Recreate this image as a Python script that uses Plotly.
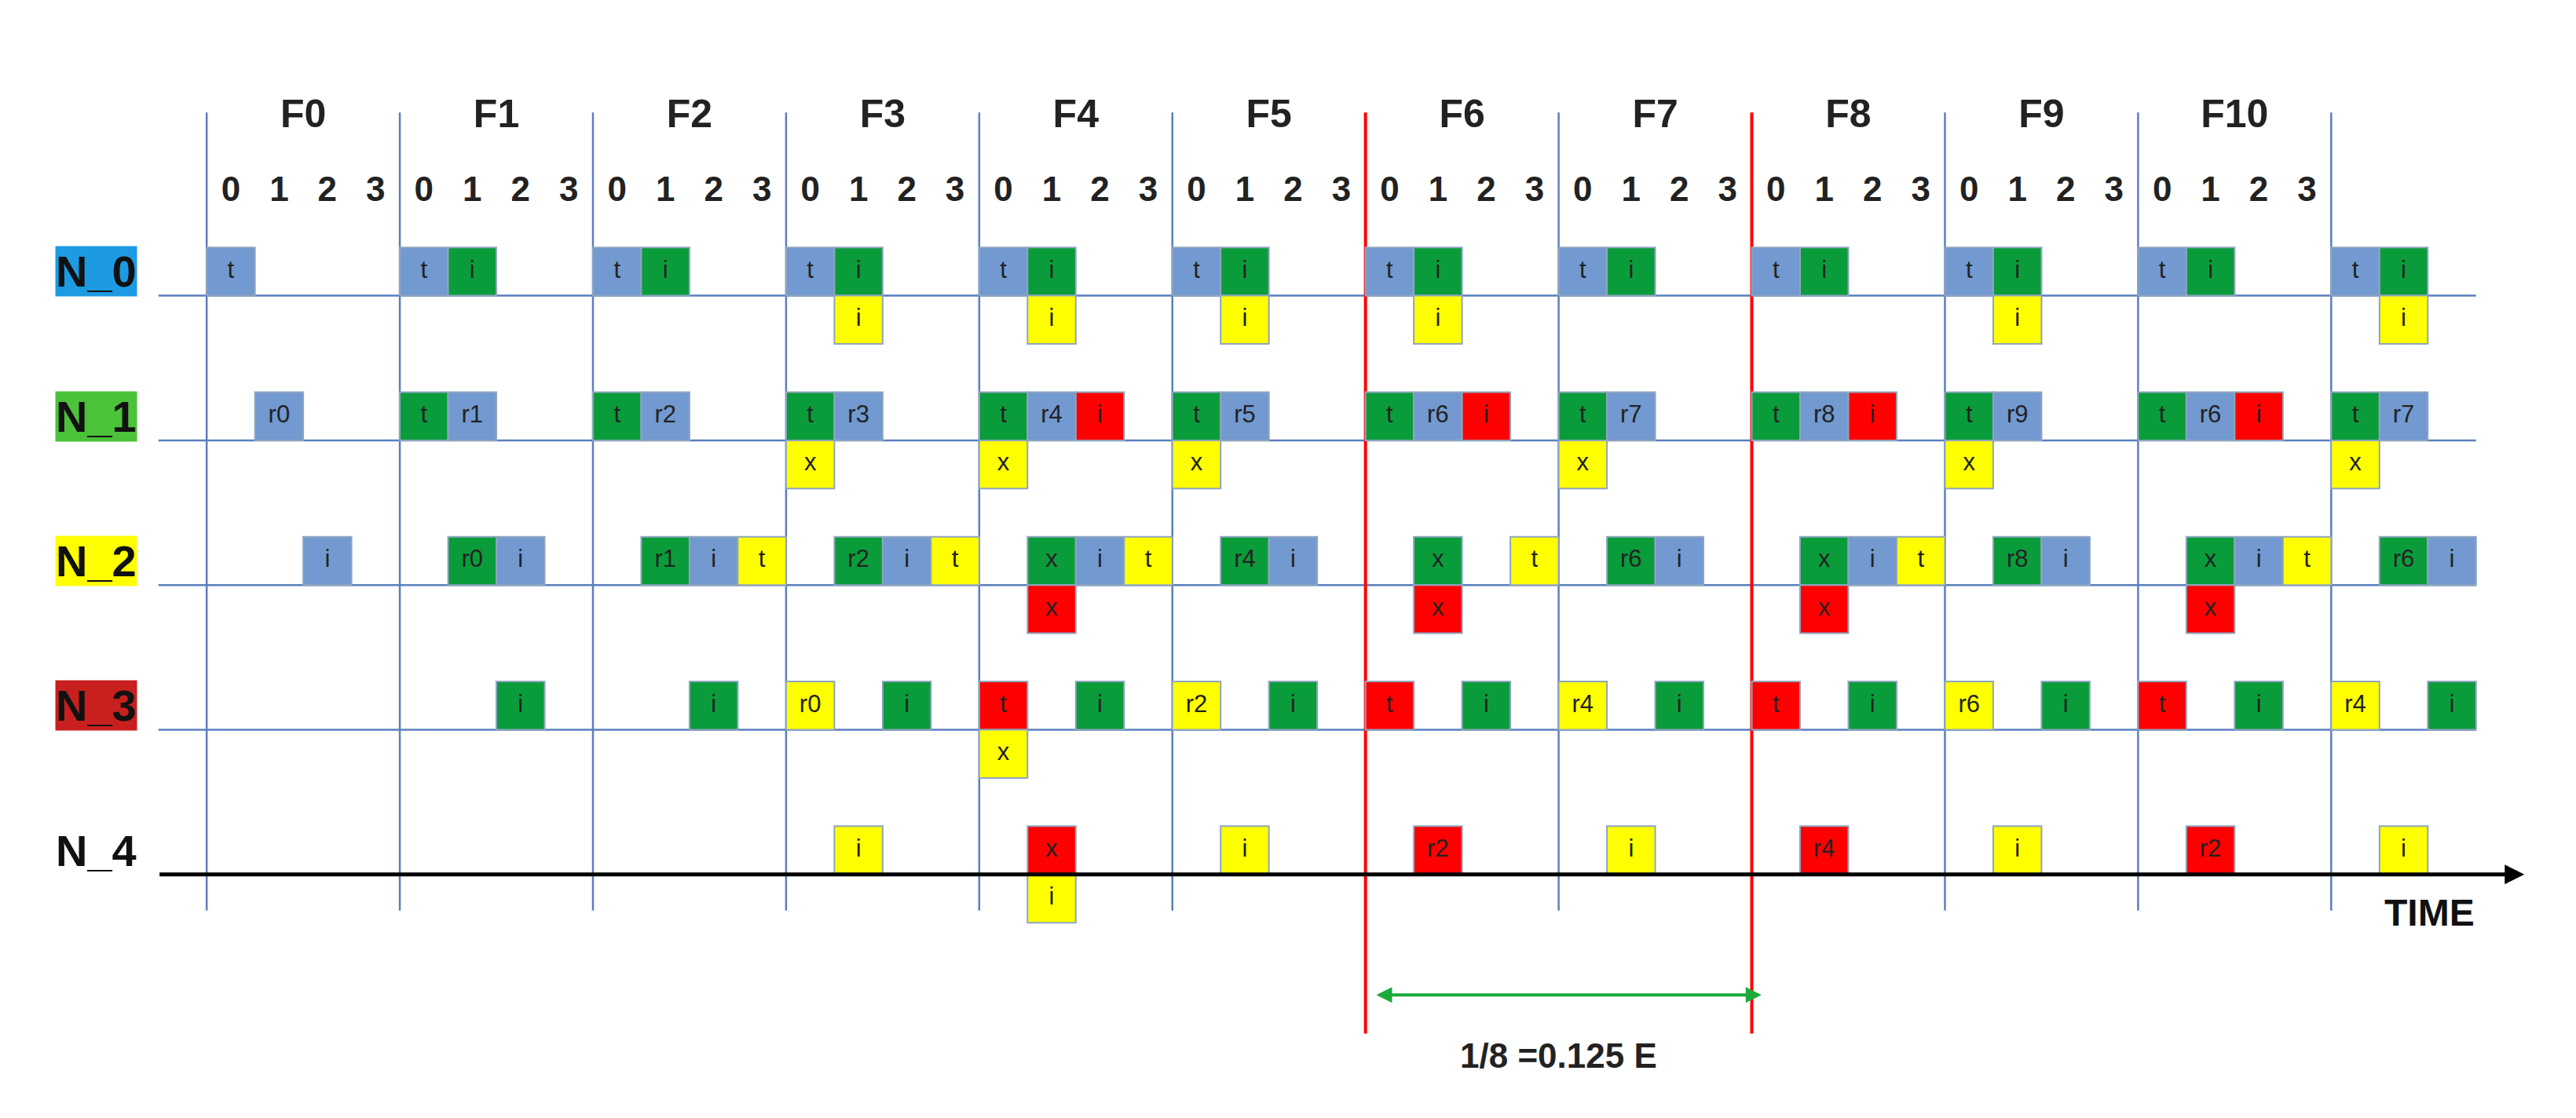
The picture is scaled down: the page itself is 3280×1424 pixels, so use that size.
import plotly.graph_objects as go

nodes = ['N_0', 'N_1', 'N_2', 'N_3', 'N_4']
node_bg = ['#1C9BE3', '#4CC23A', '#FFFF00', '#C8201E', 'rgba(0,0,0,0)']
frames = ['F0', 'F1', 'F2', 'F3', 'F4', 'F5', 'F6', 'F7', 'F8', 'F9', 'F10']
slots = ['0', '1', '2', '3']
red_frames = [6, 8]

fill = {'B': '#7299D0', 'G': '#0A9C3B', 'Y': '#FFFF00', 'R': '#FF0000'}

# (frame, slot, text, colour, side) ; side 1 = above the line, -1 = below
boxes = {
    0: [(0, 0, 't', 'B', 1),
        (1, 0, 't', 'B', 1), (1, 1, 'i', 'G', 1),
        (2, 0, 't', 'B', 1), (2, 1, 'i', 'G', 1),
        (3, 0, 't', 'B', 1), (3, 1, 'i', 'G', 1), (3, 1, 'i', 'Y', -1),
        (4, 0, 't', 'B', 1), (4, 1, 'i', 'G', 1), (4, 1, 'i', 'Y', -1),
        (5, 0, 't', 'B', 1), (5, 1, 'i', 'G', 1), (5, 1, 'i', 'Y', -1),
        (6, 0, 't', 'B', 1), (6, 1, 'i', 'G', 1), (6, 1, 'i', 'Y', -1),
        (7, 0, 't', 'B', 1), (7, 1, 'i', 'G', 1),
        (8, 0, 't', 'B', 1), (8, 1, 'i', 'G', 1),
        (9, 0, 't', 'B', 1), (9, 1, 'i', 'G', 1), (9, 1, 'i', 'Y', -1),
        (10, 0, 't', 'B', 1), (10, 1, 'i', 'G', 1),
        (11, 0, 't', 'B', 1), (11, 1, 'i', 'G', 1), (11, 1, 'i', 'Y', -1)],
    1: [(0, 1, 'r0', 'B', 1),
        (1, 0, 't', 'G', 1), (1, 1, 'r1', 'B', 1),
        (2, 0, 't', 'G', 1), (2, 1, 'r2', 'B', 1),
        (3, 0, 't', 'G', 1), (3, 1, 'r3', 'B', 1), (3, 0, 'x', 'Y', -1),
        (4, 0, 't', 'G', 1), (4, 1, 'r4', 'B', 1), (4, 2, 'i', 'R', 1), (4, 0, 'x', 'Y', -1),
        (5, 0, 't', 'G', 1), (5, 1, 'r5', 'B', 1), (5, 0, 'x', 'Y', -1),
        (6, 0, 't', 'G', 1), (6, 1, 'r6', 'B', 1), (6, 2, 'i', 'R', 1),
        (7, 0, 't', 'G', 1), (7, 1, 'r7', 'B', 1), (7, 0, 'x', 'Y', -1),
        (8, 0, 't', 'G', 1), (8, 1, 'r8', 'B', 1), (8, 2, 'i', 'R', 1),
        (9, 0, 't', 'G', 1), (9, 1, 'r9', 'B', 1), (9, 0, 'x', 'Y', -1),
        (10, 0, 't', 'G', 1), (10, 1, 'r6', 'B', 1), (10, 2, 'i', 'R', 1),
        (11, 0, 't', 'G', 1), (11, 1, 'r7', 'B', 1), (11, 0, 'x', 'Y', -1)],
    2: [(0, 2, 'i', 'B', 1),
        (1, 1, 'r0', 'G', 1), (1, 2, 'i', 'B', 1),
        (2, 1, 'r1', 'G', 1), (2, 2, 'i', 'B', 1), (2, 3, 't', 'Y', 1),
        (3, 1, 'r2', 'G', 1), (3, 2, 'i', 'B', 1), (3, 3, 't', 'Y', 1),
        (4, 1, 'x', 'G', 1), (4, 2, 'i', 'B', 1), (4, 3, 't', 'Y', 1), (4, 1, 'x', 'R', -1),
        (5, 1, 'r4', 'G', 1), (5, 2, 'i', 'B', 1),
        (6, 1, 'x', 'G', 1), (6, 3, 't', 'Y', 1), (6, 1, 'x', 'R', -1),
        (7, 1, 'r6', 'G', 1), (7, 2, 'i', 'B', 1),
        (8, 1, 'x', 'G', 1), (8, 2, 'i', 'B', 1), (8, 3, 't', 'Y', 1), (8, 1, 'x', 'R', -1),
        (9, 1, 'r8', 'G', 1), (9, 2, 'i', 'B', 1),
        (10, 1, 'x', 'G', 1), (10, 2, 'i', 'B', 1), (10, 3, 't', 'Y', 1), (10, 1, 'x', 'R', -1),
        (11, 1, 'r6', 'G', 1), (11, 2, 'i', 'B', 1)],
    3: [(1, 2, 'i', 'G', 1),
        (2, 2, 'i', 'G', 1),
        (3, 0, 'r0', 'Y', 1), (3, 2, 'i', 'G', 1),
        (4, 0, 't', 'R', 1), (4, 2, 'i', 'G', 1), (4, 0, 'x', 'Y', -1),
        (5, 0, 'r2', 'Y', 1), (5, 2, 'i', 'G', 1),
        (6, 0, 't', 'R', 1), (6, 2, 'i', 'G', 1),
        (7, 0, 'r4', 'Y', 1), (7, 2, 'i', 'G', 1),
        (8, 0, 't', 'R', 1), (8, 2, 'i', 'G', 1),
        (9, 0, 'r6', 'Y', 1), (9, 2, 'i', 'G', 1),
        (10, 0, 't', 'R', 1), (10, 2, 'i', 'G', 1),
        (11, 0, 'r4', 'Y', 1), (11, 2, 'i', 'G', 1)],
    4: [(3, 1, 'i', 'Y', 1),
        (4, 1, 'x', 'R', 1), (4, 1, 'i', 'Y', -1),
        (5, 1, 'i', 'Y', 1),
        (6, 1, 'r2', 'R', 1),
        (7, 1, 'i', 'Y', 1),
        (8, 1, 'r4', 'R', 1),
        (9, 1, 'i', 'Y', 1),
        (10, 1, 'r2', 'R', 1),
        (11, 1, 'i', 'Y', 1)],
}

ROW = 3.0  # vertical distance between node lines
row_y = [ROW * (len(nodes) - 1 - k) for k in range(len(nodes))]

fig = go.Figure()
shapes = []
annos = []

# node lines
for k, y in enumerate(row_y):
    if k < len(nodes) - 1:
        shapes.append(dict(type='line', x0=-1, x1=47, y0=y, y1=y, layer='below',
                           line=dict(color='#5A7FBF', width=2.5)))
annos.append(dict(x=48, y=0, ax=-1, ay=0, axref='x', ayref='y', xref='x', yref='y',
                  showarrow=True, arrowhead=2, arrowsize=1, arrowwidth=5,
                  arrowcolor='black', text=''))

# frame boundaries
for f in range(len(frames) + 1):
    if f in red_frames:
        shapes.append(dict(type='line', x0=4 * f, x1=4 * f, y0=-3.3, y1=15.8, layer='below',
                           line=dict(color='#FF0000', width=4)))
    else:
        shapes.append(dict(type='line', x0=4 * f, x1=4 * f, y0=-0.75, y1=15.8, layer='below',
                           line=dict(color='#5A7FBF', width=2.5)))

# boxes
bx, by, bt = [], [], []
for n, lst in boxes.items():
    base = row_y[n]
    for f, s, txt, c, side in lst:
        x0 = 4 * f + s
        y0 = base if side > 0 else base - 1
        shapes.append(dict(type='rect', x0=x0, x1=x0 + 1, y0=y0, y1=y0 + 1,
                           fillcolor=fill[c], line=dict(color='#8FA5BF', width=2),
                           layer='below'))
        bx.append(x0 + 0.5)
        by.append(y0 + 0.5)
        bt.append(txt)
fig.add_trace(go.Scatter(x=bx, y=by, text=bt, mode='text', hoverinfo='skip',
                         textfont=dict(family='Liberation Sans', size=31, color='#222222')))

# frame and slot labels
fx = [4 * f + 2 for f in range(len(frames))]
fig.add_trace(go.Scatter(x=fx, y=[15.7] * len(frames), text=frames, mode='text',
                         textfont=dict(family='Liberation Sans', size=50, color='#222222'),
                         texttemplate='<b>%{text}</b>', hoverinfo='skip'))
sx, sy, st = [], [], []
for f in range(len(frames)):
    for s, lab in enumerate(slots):
        sx.append(4 * f + s + 0.5)
        sy.append(14.15)
        st.append(lab)
fig.add_trace(go.Scatter(x=sx, y=sy, text=st, mode='text', texttemplate='<b>%{text}</b>',
                         textfont=dict(family='Liberation Sans', size=44, color='#222222'),
                         hoverinfo='skip'))

# node labels
for k, name in enumerate(nodes):
    annos.append(dict(x=-2.28, y=row_y[k] + 0.5, text='<b>' + name + '</b>', showarrow=False,
                      font=dict(family='Liberation Sans', size=56, color='#111111'),
                      bgcolor=node_bg[k], borderpad=0))

annos.append(dict(x=47, y=-0.8, text='<b>TIME</b>', showarrow=False, xanchor='right',
                  font=dict(family='Liberation Sans', size=48, color='#111111')))

# epoch span arrow
annos.append(dict(x=32.2, y=-2.5, ax=24.2, ay=-2.5, axref='x', ayref='y', xref='x', yref='y',
                  text='', showarrow=True, arrowhead=2, arrowside='end+start',
                  arrowwidth=4, arrowcolor='#1AAA3A'))
annos.append(dict(x=28, y=-3.75, text='<b>1/8 =0.125 E</b>', showarrow=False,
                  font=dict(family='Liberation Sans', size=44, color='#222222')))

fig.update_layout(width=3280, height=1424, margin=dict(l=0, r=0, t=0, b=0),
                  plot_bgcolor='white', paper_bgcolor='white', showlegend=False,
                  shapes=shapes, annotations=annos,
                  xaxis=dict(range=[-4.15, 49.2], visible=False, fixedrange=True),
                  yaxis=dict(range=[-5.18, 18], visible=False, fixedrange=True))
fig.write_html("out.html")
